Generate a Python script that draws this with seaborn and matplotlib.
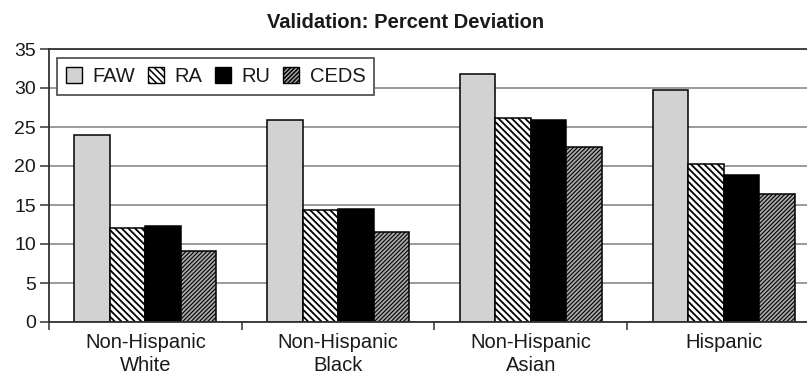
import matplotlib
matplotlib.use("Agg")
import matplotlib.pyplot as plt
import seaborn as sns
import pandas as pd
from matplotlib.patches import Patch

# Categories and series
groups = ["Non-Hispanic\nWhite", "Non-Hispanic\nBlack", "Non-Hispanic\nAsian", "Hispanic"]
methods = ["FAW", "RA", "RU", "CEDS"]
faw = [24.0, 25.9, 31.8, 29.7]
ra = [12.0, 14.3, 26.2, 20.2]
ru = [12.3, 14.5, 25.9, 18.9]
ceds = [9.1, 11.6, 22.4, 16.4]
y_ticks = [0, 5, 10, 15, 20, 25, 30, 35]

series = {"FAW": faw, "RA": ra, "RU": ru, "CEDS": ceds}
df = pd.DataFrame(
    [(g, m, v) for m in methods for g, v in zip(groups, series[m])],
    columns=["group", "method", "value"],
)

face = {"FAW": "#d2d2d2", "RA": "#ffffff", "RU": "#000000", "CEDS": "#a9a9a9"}
hatch = {"FAW": "", "RA": "\\\\\\\\\\", "RU": "", "CEDS": "////////"}
hatch_lw = {"FAW": 1.0, "RA": 1.3, "RU": 1.0, "CEDS": 0.8}

sns.set_theme(style="white")
plt.rcParams["font.family"] = ["Liberation Sans", "DejaVu Sans"]
plt.rcParams["hatch.linewidth"] = 1.1
plt.rcParams["text.color"] = "#1a1a1a"
plt.rcParams["xtick.color"] = "#1a1a1a"
plt.rcParams["ytick.color"] = "#1a1a1a"

fig = plt.figure(figsize=(8.07, 3.78), dpi=100)
ax = fig.add_axes([49 / 807, 1 - 322 / 378, 771 / 807, 273 / 378])

sns.barplot(
    data=df, x="group", y="value", hue="method",
    order=groups, hue_order=methods, palette=face,
    width=0.736, saturation=1, edgecolor="black", linewidth=1.1,
    errorbar=None, legend=False, ax=ax,
)

for container, m in zip(ax.containers, methods):
    for p in container:
        p.set_hatch(hatch[m])
        if hasattr(p, "set_hatch_linewidth"):
            p.set_hatch_linewidth(hatch_lw[m])

ax.set_ylim(0, 35)
ax.set_yticks(y_ticks)
ax.set_xlim(-0.5, 3.5)
ax.set_xticks(range(len(groups)))
ax.set_xticklabels(groups, linespacing=1.25)
ax.set_xticks([i - 0.5 for i in range(len(groups) + 1)], minor=True)
ax.set_xlabel("")
ax.set_ylabel("")

ax.tick_params(axis="x", which="major", length=0, pad=8, labelsize=14.5)
ax.tick_params(axis="x", which="minor", length=6, width=1.1, color="#333333", direction="out", bottom=True)
ax.tick_params(axis="y", length=6.5, width=1.1, color="#333333", direction="out",
               labelsize=14, pad=3, left=True)

ax.yaxis.grid(True, color="#8a8a8a", linewidth=1.2)
ax.set_axisbelow(True)
for side in ("left", "bottom", "top"):
    ax.spines[side].set_color("#333333")
    ax.spines[side].set_linewidth(1.3)
ax.spines["right"].set_visible(False)

handles = [
    Patch(facecolor=face[m], edgecolor="black", hatch=hatch[m], linewidth=1.0)
    for m in methods
]
leg = ax.legend(
    handles, methods, ncol=4, loc="upper left",
    bbox_to_anchor=(57 / 807, 1 - 58 / 378), bbox_transform=fig.transFigure,
    borderaxespad=0, frameon=True, fancybox=False, framealpha=1,
    edgecolor="#555555", fontsize=14.5, handlelength=0.8, handleheight=0.8,
    handletextpad=0.5, columnspacing=0.65, borderpad=0.45,
)
leg.get_frame().set_linewidth(1.3)

fig.text(0.503, 0.94, "Validation: Percent Deviation", ha="center", va="center",
         fontsize=14.5, fontweight="bold")

fig.savefig("out.png", dpi=100)
